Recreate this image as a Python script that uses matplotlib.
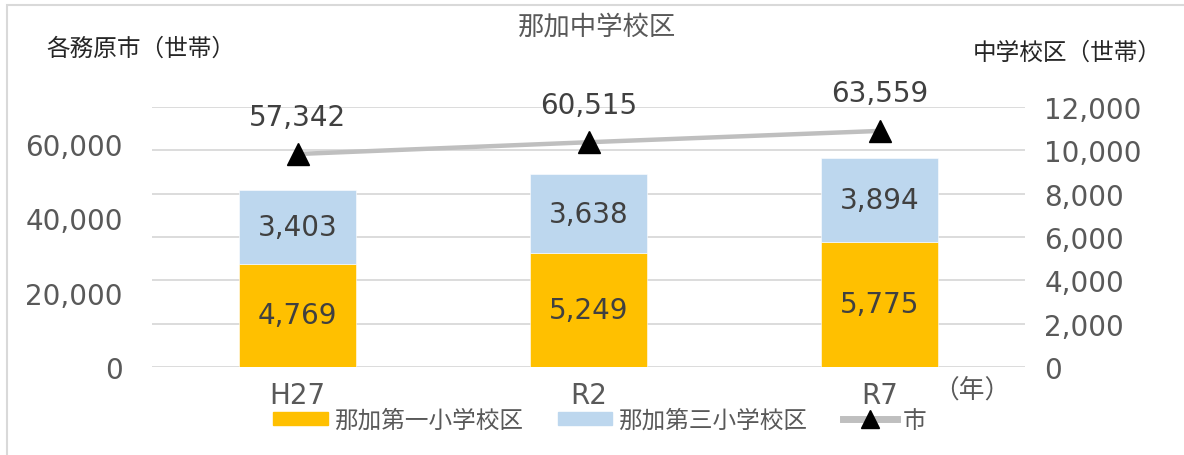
import matplotlib
matplotlib.use("Agg")
import matplotlib.pyplot as plt
from matplotlib.patches import Rectangle
from matplotlib.ticker import FuncFormatter

plt.rcParams['font.family'] = ['DejaVu Sans', 'Noto Sans CJK JP']

# データ
years = ['H27', 'R2', 'R7']
daiichi = [4769, 5249, 5775]     # 那加第一小学校区
daisan = [3403, 3638, 3894]      # 那加第三小学校区
city = [57342, 60515, 63559]     # 市

orange = '#FFC000'
blue = '#BDD7EE'
gray = '#BFBFBF'
tick_col = '#595959'
lab_col = '#404040'
fmt = FuncFormatter(lambda v, p: f'{int(v):,}')

fig = plt.figure(figsize=(11.84, 4.56), dpi=100)
ax = fig.add_axes([152/1184, 1-368/456, (1025-152)/1184, (368-108)/456])
ax2 = ax.twinx()
x = list(range(len(years)))

# 棒グラフ（右目盛）
ax.bar(x, daiichi, width=0.4, color=orange, edgecolor='white', linewidth=0.4, zorder=2)
ax.bar(x, daisan, width=0.4, bottom=daiichi, color=blue, edgecolor='white', linewidth=0.4, zorder=2)
for i in x:
    ax.text(i, daiichi[i]/2, f'{daiichi[i]:,}', ha='center', va='center',
            fontsize=20, color=lab_col, zorder=3)
    ax.text(i, daiichi[i] + daisan[i]/2, f'{daisan[i]:,}', ha='center', va='center',
            fontsize=20, color=lab_col, zorder=3)

ax.set_xlim(-0.5, 2.5)
ax.set_ylim(0, 12000)
ax.set_yticks(range(0, 12001, 2000))
ax.yaxis.set_major_formatter(fmt)
ax.grid(axis='y', color='#D9D9D9', linewidth=1.3, zorder=0)
ax.set_axisbelow(True)
ax.set_xticks(x)
ax.set_xticklabels(years)
ax.tick_params(axis='x', length=0, pad=10, labelsize=20, labelcolor=tick_col)

# 折れ線（左目盛）
ax2.plot(x, city, color=gray, linewidth=3.2, marker='^', markersize=16,
         markerfacecolor='black', markeredgecolor='black', zorder=4)
for i in x:
    ax2.annotate(f'{city[i]:,}', (i, city[i]), xytext=(0, 27), textcoords='offset points',
                 ha='center', va='center', fontsize=20, color=lab_col)
ax2.set_ylim(0, 70000)
ax2.set_yticks(range(0, 60001, 20000))
ax2.yaxis.set_major_formatter(fmt)

# 目盛の左右を入れ替え
ax.yaxis.tick_right()
ax2.yaxis.tick_left()
ax.tick_params(axis='y', which='both', length=0, pad=14, labelsize=20, labelcolor=tick_col,
               left=False, labelleft=False, right=False, labelright=True)
ax2.tick_params(axis='y', which='both', length=0, pad=21, labelsize=20, labelcolor=tick_col,
                right=False, labelright=False, left=False, labelleft=True)
for a in (ax, ax2):
    for s in a.spines.values():
        s.set_visible(False)

# タイトル・軸ラベル
fig.text(597/1184, 1-28/456, '那加中学校区', ha='center', va='center', fontsize=19, color=tick_col)
fig.text(46/1184, 1-49/456, '各務原市（世帯）', ha='left', va='center', fontsize=17, color='#262626')
fig.text(973/1184, 1-53/456, '中学校区（世帯）', ha='left', va='center', fontsize=17, color='#262626')
fig.text(972/1184, 1-391/456, '（年）', ha='center', va='center', fontsize=18.5, color=tick_col)

# 凡例
h1 = plt.Rectangle((0, 0), 1, 1, color=orange)
h2 = plt.Rectangle((0, 0), 1, 1, color=blue)
h3 = plt.Line2D([], [], color=gray, linewidth=5, marker='^', markersize=13,
                markerfacecolor='black', markeredgecolor='black')
leg = fig.legend([h1, h2, h3], ['那加第一小学校区', '那加第三小学校区', '市'],
                 loc='center', bbox_to_anchor=(600/1184, 1-421/456), ncol=3, frameon=False,
                 fontsize=17, handlelength=2.3, handleheight=0.5, handletextpad=0.25,
                 columnspacing=1.5, numpoints=1)
for t in leg.get_texts():
    t.set_color(tick_col)

# 外枠
fig.patches.append(Rectangle((7/1184, -0.1), 1.2, 1.1-6/456, transform=fig.transFigure,
                             fill=False, edgecolor='#D9D9D9', linewidth=1.5, clip_on=False))

fig.savefig('out.png', dpi=100)
